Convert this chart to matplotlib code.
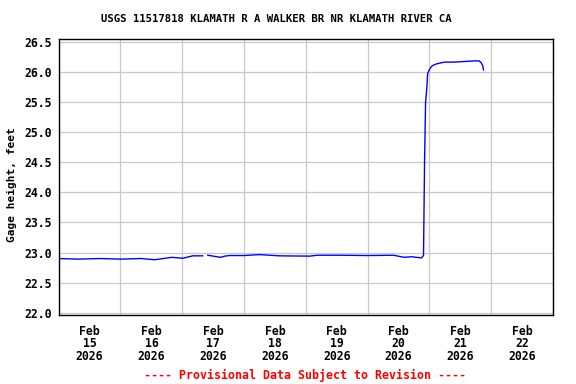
import matplotlib
matplotlib.use("Agg")
import matplotlib.pyplot as plt
import matplotlib.dates as mdates
import numpy as np

# gage height readings, hours after Feb 15 2026 00:00
hours = [0, 8, 16, 24, 32, 37.3, 43.9, 48.2, 52.1, 55.9, 56.9, 57.9, 61.4, 63, 64.5,
         66.4, 72, 78, 85.8, 97.4, 100.5, 110, 120, 130, 134.3, 137, 140.9, 141.7,
         142.1, 142.5, 143.0, 143.3, 144.3, 145.1, 146.7, 149.8, 153.5, 157.5, 161.4,
         163.3, 164.1, 164.7, 165.0]
gage_ft = [22.90, 22.89, 22.90, 22.89, 22.90, 22.88, 22.92, 22.905, 22.945, 22.945, np.nan,
           22.955, 22.93, 22.92, 22.94, 22.95, 22.95, 22.965, 22.945, 22.94, 22.955,
           22.955, 22.95, 22.955, 22.92, 22.93, 22.91, 22.95, 24.5, 25.5, 25.75, 25.98,
           26.07, 26.11, 26.14, 26.17, 26.17, 26.18, 26.19, 26.19, 26.16, 26.11, 26.04]

title = "USGS 11517818 KLAMATH R A WALKER BR NR KLAMATH RIVER CA"
y_ticks = [22.0, 22.5, 23.0, 23.5, 24.0, 24.5, 25.0, 25.5, 26.0, 26.5]

start = np.datetime64("2026-02-15T00:00")
times = start + (np.array(hours) * 60).astype("timedelta64[m]")

font = "DejaVu Sans Mono"

fig = plt.figure(figsize=(5.76, 3.84), dpi=100)
ax = fig.add_axes([0.1019, 0.1797, 0.8582, 0.718])

ax.plot(times, gage_ft, color="#0000ff", linewidth=1.0)

ax.set_xlim(start, start + np.timedelta64(8, "D"))
ax.set_ylim(21.96, 26.55)
ax.set_yticks(y_ticks)
ax.set_yticklabels(["%.1f" % v for v in y_ticks], fontfamily=font,
                   fontweight="bold", fontsize=8.3)

# gridlines at midnight, labels at noon
ax.xaxis.set_major_locator(mdates.DayLocator())
ax.xaxis.set_major_formatter(plt.NullFormatter())
ax.xaxis.set_minor_locator(mdates.HourLocator(byhour=12))
ax.xaxis.set_minor_formatter(mdates.DateFormatter("%b\n%d\n%Y"))
for lab in ax.xaxis.get_minorticklabels():
    lab.set_fontfamily(font)
    lab.set_fontweight("bold")
    lab.set_fontsize(8.3)
    lab.set_linespacing(0.95)

ax.tick_params(axis="both", which="both", length=0)
ax.tick_params(axis="y", pad=5)
ax.tick_params(axis="x", which="minor", pad=7)
ax.grid(True, which="major", color="#c8c8c8", linewidth=0.9)
ax.set_axisbelow(True)
for sp in ax.spines.values():
    sp.set_linewidth(1.0)
    sp.set_color("black")

fig.text(0.479, 0.9505, title, ha="center", va="center", fontfamily=font,
         fontweight="bold", fontsize=7.7)
fig.text(0.021, 0.519, "Gage height, feet", rotation=90, ha="center", va="center",
         fontfamily=font, fontweight="bold", fontsize=8.0)
fig.text(0.530, 0.023, "---- Provisional Data Subject to Revision ----", ha="center",
         va="center", color="red", fontfamily=font, fontweight="bold", fontsize=8.4)

fig.savefig("out.png", dpi=100)
